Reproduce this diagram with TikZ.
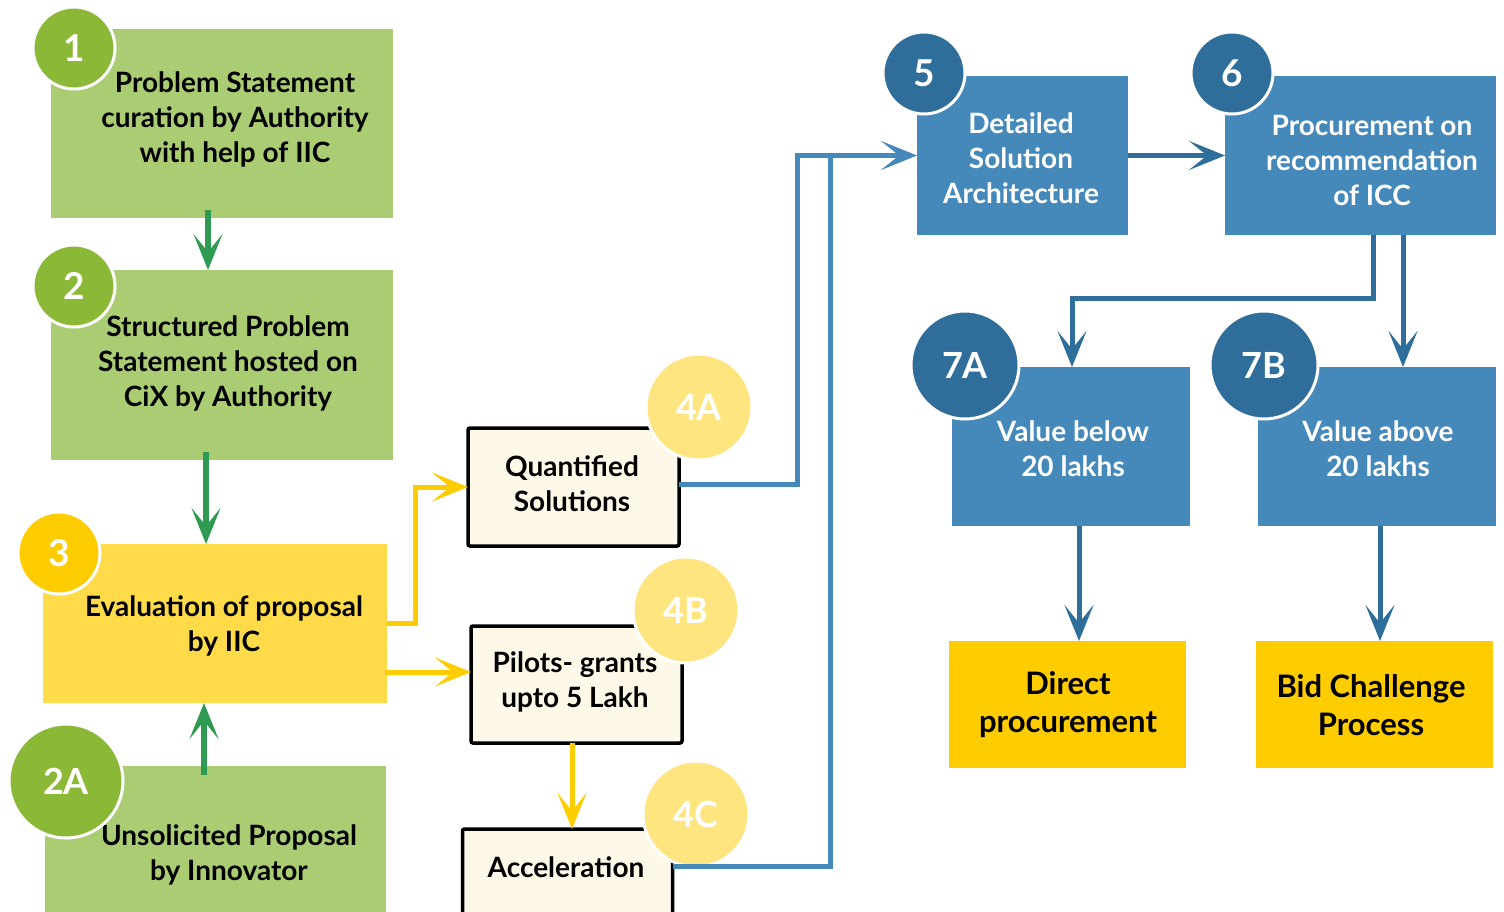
\documentclass[tikz,border=0pt]{standalone}
\usepackage{fontspec}
\setmainfont{Lato}
\usetikzlibrary{arrows.meta,calc}
\definecolor{gbox}{HTML}{AACD74}
\definecolor{gcirc}{HTML}{8BB836}
\definecolor{garr}{HTML}{2E9A52}
\definecolor{ybox}{HTML}{FFDB4A}
\definecolor{ycirc}{HTML}{FFCC00}
\definecolor{pcirc}{HTML}{FFE580}
\definecolor{pbox}{HTML}{FDF8E7}
\definecolor{bbox}{HTML}{4589BA}
\definecolor{bcirc}{HTML}{2F6E9A}
\tikzset{
  boxn/.style={rectangle, inner sep=0pt, outer sep=0pt, draw=none},
  txt/.style={align=center, font=\fontsize{28}{35}\selectfont\bfseries, inner sep=0pt},
  ctxt/.style={font=\fontsize{37}{37}\selectfont\bfseries, text=white, inner sep=0pt},
  ctxtb/.style={font=\fontsize{36}{36}\selectfont\bfseries, text=white, inner sep=0pt},
  circn/.style={circle, draw=white, line width=3pt, inner sep=0pt},
  tip/.style={-{Stealth[length=36pt,width=29pt,inset=18pt]}},
  gline/.style={draw=garr, line width=6pt, tip},
  yline/.style={draw=ycirc, line width=5pt},
  bline/.style={draw=bbox, line width=5pt},
  dline/.style={draw=bcirc, line width=5pt},
}
\begin{document}
\begin{tikzpicture}[x=1pt,y=-1pt]
\path[use as bounding box] (0,0) rectangle (1504,912);
\clip (0,0) rectangle (1504,912);
% boxes
\node[boxn, fill=gbox, minimum width=342pt, minimum height=189pt] (b1) at (222,123.5) {};
\node[boxn, fill=gbox, minimum width=342pt, minimum height=190pt] (b2) at (222,365) {};
\node[boxn, fill=ybox, minimum width=344pt, minimum height=159pt] (b3) at (215,623.5) {};
\node[boxn, fill=gbox, minimum width=341pt, minimum height=170pt] (b2a) at (215.5,851) {};
\node[boxn, fill=pbox, draw=black, line width=3.5pt, rounded corners=2pt, minimum width=211pt, minimum height=118pt] (b4a) at (573.5,487) {};
\node[boxn, fill=pbox, draw=black, line width=3.5pt, rounded corners=2pt, minimum width=211pt, minimum height=117pt] (b4b) at (576.5,684.5) {};
\node[boxn, fill=pbox, draw=black, line width=3.5pt, rounded corners=2pt, minimum width=210pt, minimum height=140pt] (b4c) at (567.5,899) {};
\node[boxn, fill=bbox, minimum width=211pt, minimum height=159pt] (b5) at (1022.5,155.5) {};
\node[boxn, fill=bbox, minimum width=271pt, minimum height=159pt] (b6) at (1360.5,155.5) {};
\node[boxn, fill=bbox, minimum width=238pt, minimum height=159pt] (b7a) at (1071,446.5) {};
\node[boxn, fill=bbox, minimum width=238pt, minimum height=159pt] (b7b) at (1377,446.5) {};
\node[boxn, fill=ycirc, minimum width=237pt, minimum height=127pt] (bdir) at (1067.5,704.5) {};
\node[boxn, fill=ycirc, minimum width=237pt, minimum height=127pt] (bbid) at (1374.5,704.5) {};
% texts
\node[txt] (t1) at (235,119) {Problem Statement\\curation by Authority\\with help of IIC};
\node[txt] (t2) at (228,363) {Structured Problem\\Statement hosted on\\CiX by Authority};
\node[txt] (t3) at (224,625.5) {Evaluation of proposal\\by IIC};
\node[txt] (t2a) at (229,854.5) {Unsolicited Proposal\\by Innovator};
\node[txt] (t4a) at (572,484) {Quantified\\Solutions};
\node[txt] (t4b) at (575,681.5) {Pilots- grants\\upto 5 Lakh};
\node[txt] (t4c) at (566,867) {Acceleration};
\node[txt, text=white] (t5) at (1021,158) {Detailed\\Solution\\Architecture};
\node[txt, text=white] (t6) at (1372,160) {Procurement on\\recommendation\\of ICC};
\node[txt, text=white] (t7a) at (1073,449) {Value below\\20 lakhs};
\node[txt, text=white] (t7b) at (1378,449) {Value above\\20 lakhs};
\node[txt, font=\fontsize{31}{38}\selectfont\bfseries] (tdir) at (1068,705) {Direct\\procurement};
\node[txt, font=\fontsize{31}{38}\selectfont\bfseries] (tbid) at (1371,705) {Bid Challenge\\Process};
% circles
\node[circn, fill=gcirc, minimum size=82pt] (c1) at (74,48) {};
\node[ctxt] at (c1) {1};
\node[circn, fill=gcirc, minimum size=82pt] (c2) at (74,286) {};
\node[ctxt] at (c2) {2};
\node[circn, fill=ycirc, minimum size=82pt] (c3) at (59,553) {};
\node[ctxt] at (c3) {3};
\node[circn, fill=gcirc, minimum size=114pt] (c2a) at (66,781) {};
\node[ctxtb] at (c2a) {2A};
\node[circn, fill=pcirc, minimum size=106pt] (c4a) at (699,407) {};
\node[ctxtb] at (c4a) {4A};
\node[circn, fill=pcirc, minimum size=106pt] (c4b) at (686,610) {};
\node[ctxtb] at (c4b) {4B};
\node[circn, fill=pcirc, minimum size=106pt] (c4c) at (696,814) {};
\node[ctxtb] at (c4c) {4C};
\node[circn, fill=bcirc, minimum size=82pt] (c5) at (924,73) {};
\node[ctxt] at (c5) {5};
\node[circn, fill=bcirc, minimum size=82pt] (c6) at (1232,73) {};
\node[ctxt] at (c6) {6};
\node[circn, fill=bcirc, minimum size=108pt] (c7a) at (965,365) {};
\node[ctxtb] at (c7a) {7A};
\node[circn, fill=bcirc, minimum size=108pt] (c7b) at (1264,365) {};
\node[ctxtb] at (c7b) {7B};
% connector coordinates
\coordinate (g12) at (208,210);
\coordinate (g23) at (206,452);
\coordinate (g2a) at (204,775);
\coordinate (y1) at (415,623);
\coordinate (y2) at (385,672);
\coordinate (y3) at (572,0);
\coordinate (bx1) at (797,300);
\coordinate (bx2) at (830,300);
\coordinate (d6a) at (1373,298);
\coordinate (d7a) at (1072,0);
\coordinate (d6b) at (1403,0);
\coordinate (d7ad) at (1079,0);
\coordinate (d7bd) at (1380,0);
% green
\draw[gline] (g12) -- (g12 |- b2.north);
\draw[gline] (g23) -- (g23 |- b3.north);
\draw[gline] (g2a) -- (g2a |- b3.south);
% yellow
\draw[yline, tip] (y1 -| b3.east) -- (y1) |- (b4a.west);
\draw[yline, tip] (y2) -- (y2 -| b4b.west);
\draw[yline, tip] (y3 |- b4b.south) -- (y3 |- b4c.north);
% blue
\draw[bline, tip] ($(b4a.north east)+(0,56)$) -| (bx1) |- (b5.west);
\draw[bline] ($(b4c.north east)+(0,37)$) -| (bx2) |- (bx2 |- b5.west);
\draw[dline, tip] (b5.east) -- (b6.west);
\draw[dline, tip] (d6a |- b6.south) -- (d6a) -| (d7a |- b7a.north);
\draw[dline, tip] (d6b |- b6.south) -- (d6b |- b7b.north);
\draw[dline, tip] (d7ad |- b7a.south) -- (d7ad |- bdir.north);
\draw[dline, tip] (d7bd |- b7b.south) -- (d7bd |- bbid.north);
\end{tikzpicture}
\end{document}
